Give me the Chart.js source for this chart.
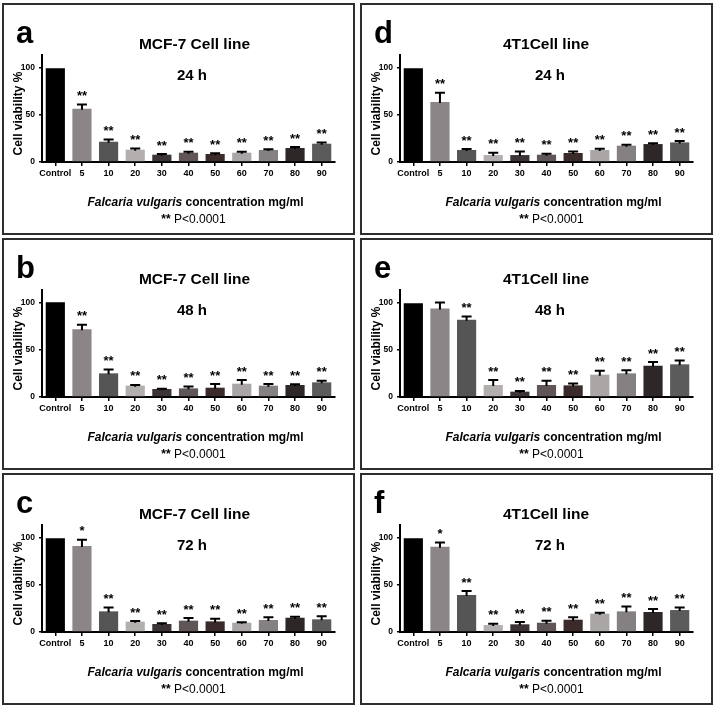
<!DOCTYPE html>
<html><head><meta charset="utf-8">
<script src="https://cdn.jsdelivr.net/npm/chart.js@4.4.1/dist/chart.umd.min.js"></script>
<style>
html,body{margin:0;padding:0;background:#fff;}
body{width:716px;height:707px;position:relative;overflow:hidden;font-family:"Liberation Sans",Arial,Helvetica,sans-serif;color:#000;}
.panel{position:absolute;width:353px;height:232px;}
.frame{position:absolute;left:0;top:0;right:0;bottom:0;border:2.5px solid #2e2e2e;box-sizing:border-box;}
.panel canvas{position:absolute;left:0;top:0;}
.t{position:absolute;white-space:nowrap;line-height:1;}
</style></head><body>
<script>
// ---------- data ----------
const categories = ['Control','5','10','20','30','40','50','60','70','80','90'];
const barColors = ['#000000','#8c8587','#565556','#b3afaf','#3b3335','#605658','#3b2a2a','#aaa6a6','#858081','#2d2727','#5b5b5b'];
const yTickValues = [0, 50, 100];
const yMax = 114;

const mcf7_24h      = [100, 56.7, 21.6, 13.1, 7.8, 9.9, 8.5, 9.9, 12.8, 14.9, 19.5];
const mcf7_24h_sem  = [0, 4.6, 2.5, 1.4, 0.7, 1.0, 0.7, 1.0, 0.7, 1.0, 1.4];
const mcf7_24h_sig  = ['', '**', '**', '**', '**', '**', '**', '**', '**', '**', '**'];

const mcf7_48h      = [101, 72.3, 25.2, 12.1, 8.5, 9.2, 9.9, 14.2, 12.1, 12.8, 15.6];
const mcf7_48h_sem  = [0, 4.6, 4.2, 0.7, 0.4, 2.1, 3.9, 3.9, 1.7, 0.7, 1.8];
const mcf7_48h_sig  = ['', '**', '**', '**', '**', '**', '**', '**', '**', '**', '**'];

const mcf7_72h      = [100, 91.5, 22.0, 11.0, 8.5, 12.1, 11.3, 9.9, 12.8, 15.2, 13.5];
const mcf7_72h_sem  = [0, 6.7, 4.2, 0.7, 0.7, 2.8, 2.9, 0.4, 2.8, 1.1, 3.2];
const mcf7_72h_sig  = ['', '*', '**', '**', '**', '**', '**', '**', '**', '**', '**'];

const t4t1_24h      = [100, 63.8, 12.8, 7.4, 7.4, 7.8, 9.6, 12.8, 17.4, 19.1, 20.9];
const t4t1_24h_sem  = [0, 10.0, 1.0, 2.5, 3.9, 1.0, 1.7, 1.4, 1.0, 0.8, 1.4];
const t4t1_24h_sig  = ['', '**', '**', '**', '**', '**', '**', '**', '**', '**', '**'];

const t4t1_48h      = [100, 94.3, 82.3, 12.8, 5.7, 12.8, 12.4, 23.8, 25.2, 33.3, 34.8];
const t4t1_48h_sem  = [0, 6.4, 3.5, 5.3, 0.7, 4.6, 2.1, 4.2, 3.2, 3.9, 4.2];
const t4t1_48h_sig  = ['', '', '**', '**', '**', '**', '**', '**', '**', '**', '**'];

const t4t1_72h      = [100, 90.8, 39.4, 7.4, 8.2, 9.9, 13.1, 19.5, 22.0, 21.3, 23.4];
const t4t1_72h_sem  = [0, 4.6, 4.2, 1.5, 2.4, 2.2, 2.5, 1.1, 5.3, 3.2, 2.8];
const t4t1_72h_sig  = ['', '*', '**', '**', '**', '**', '**', '**', '**', '**', '**'];

const panelLetters = ['a','b','c','d','e','f'];
const panelCellLines = ['MCF-7 Cell line','MCF-7 Cell line','MCF-7 Cell line','4T1Cell line','4T1Cell line','4T1Cell line'];
const panelTimes = ['24 h','48 h','72 h','24 h','48 h','72 h'];
const panelMeans = [mcf7_24h, mcf7_48h, mcf7_72h, t4t1_24h, t4t1_48h, t4t1_72h];
const panelSems = [mcf7_24h_sem, mcf7_48h_sem, mcf7_72h_sem, t4t1_24h_sem, t4t1_48h_sem, t4t1_72h_sem];
const panelSigs = [mcf7_24h_sig, mcf7_48h_sig, mcf7_72h_sig, t4t1_24h_sig, t4t1_48h_sig, t4t1_72h_sig];
const yTitle = 'Cell viability %';
const xTitleItalic = 'Falcaria vulgaris';
const xTitleRest = ' concentration mg/ml';
const pNote = 'P<0.0001';

// ---------- layout ----------
const FONT = '"Liberation Sans", Arial, Helvetica, sans-serif';
const colX = [2, 360];
const rowY = [3, 238, 473];
const PW = 353, PH = 232;
const titleCx = [192.5, 186];

function addText(parent, html, x, baseline, size, weight, center) {
  const d = document.createElement('div');
  d.className = 't';
  d.innerHTML = html;
  d.style.fontSize = size + 'px';
  d.style.fontWeight = weight;
  d.style.top = (baseline - 0.8465 * size) + 'px';
  d.style.left = x + 'px';
  if (center) d.style.transform = 'translateX(-50%)';
  parent.appendChild(d);
  return d;
}

const errPlugin = {
  id: 'errstars',
  afterDatasetsDraw(chart) {
    const ctx = chart.ctx;
    const meta = chart.getDatasetMeta(0);
    const ys = chart.scales.y;
    const info = chart.options.plugins.errstars;
    ctx.save();
    meta.data.forEach((bar, i) => {
      const m = info.mean[i], e = info.sem[i];
      const x = bar.x;
      const yTop = ys.getPixelForValue(m + e);
      const yBar = ys.getPixelForValue(m);
      if (e > 0) {
        ctx.strokeStyle = '#000';
        ctx.lineWidth = 2;
        ctx.beginPath();
        ctx.moveTo(x, yBar + 1);
        ctx.lineTo(x, yTop);
        ctx.moveTo(x - 5, yTop);
        ctx.lineTo(x + 5, yTop);
        ctx.stroke();
      }
      if (info.sig[i]) {
        ctx.fillStyle = '#000';
        ctx.font = 'bold 13px ' + FONT;
        ctx.textAlign = 'center';
        ctx.textBaseline = 'alphabetic';
        ctx.fillText(info.sig[i], x, yTop - 4.5);
      }
    });
    ctx.restore();
  }
};

for (let p = 0; p < 6; p++) {
  const col = Math.floor(p / 3), row = p % 3;
  const panel = document.createElement('div');
  panel.className = 'panel';
  panel.style.left = colX[col] + 'px';
  panel.style.top = rowY[row] + 'px';
  document.body.appendChild(panel);

  const canvas = document.createElement('canvas');
  canvas.width = PW; canvas.height = PH;
  canvas.style.width = PW + 'px'; canvas.style.height = PH + 'px';
  panel.appendChild(canvas);

  const frame = document.createElement('div');
  frame.className = 'frame';
  panel.appendChild(frame);

  addText(panel, panelLetters[p], 14, 40, 31, 'bold', false);
  addText(panel, panelCellLines[p], titleCx[col], 46.3, 15.5, 'bold', true);
  addText(panel, panelTimes[p], 190, 77, 15, 'bold', true);
  addText(panel, '<i>' + xTitleItalic + '</i>' + xTitleRest, 193.5, 203, 12, 'bold', true);
  addText(panel, '<b>**</b> ' + pNote, 191.5, 219.7, 12, 'normal', true);

  new Chart(canvas, {
    type: 'bar',
    data: {
      labels: categories,
      datasets: [{
        data: panelMeans[p],
        backgroundColor: barColors,
        borderWidth: 0,
        barPercentage: 0.72,
        categoryPercentage: 1
      }]
    },
    options: {
      responsive: false,
      animation: false,
      devicePixelRatio: 1,
      layout: { padding: { top: 52, right: 20, left: 0, bottom: 0 } },
      plugins: {
        legend: { display: false },
        tooltip: { enabled: false },
        title: { display: false },
        errstars: { mean: panelMeans[p], sem: panelSems[p], sig: panelSigs[p] }
      },
      scales: {
        x: {
          grid: { display: true, drawOnChartArea: false, drawTicks: true, tickLength: 4, offset: false, color: '#000', lineWidth: 1.5 },
          border: { display: true, color: '#000', width: 2 },
          ticks: { color: '#000', font: { family: FONT, size: 9, weight: 'bold' }, padding: 2, maxRotation: 0, autoSkip: false },
          afterFit(s) { s.height = 73; }
        },
        y: {
          min: 0, max: yMax,
          afterBuildTicks(s) { s.ticks = yTickValues.map(v => ({ value: v })); },
          ticks: { color: '#000', font: { family: FONT, size: 8.5, weight: 'bold' }, padding: 4 },
          grid: { drawOnChartArea: false, drawTicks: true, tickLength: 3, color: '#000', lineWidth: 1.5 },
          border: { display: true, color: '#000', width: 2 },
          title: { display: true, text: yTitle + '   ', color: '#000', font: { family: FONT, size: 12, weight: 'bold' }, padding: { top: 9, bottom: 0 } },
          afterFit(s) { s.width = 40; }
        }
      }
    },
    plugins: [errPlugin]
  });
}
</script>
</body></html>
